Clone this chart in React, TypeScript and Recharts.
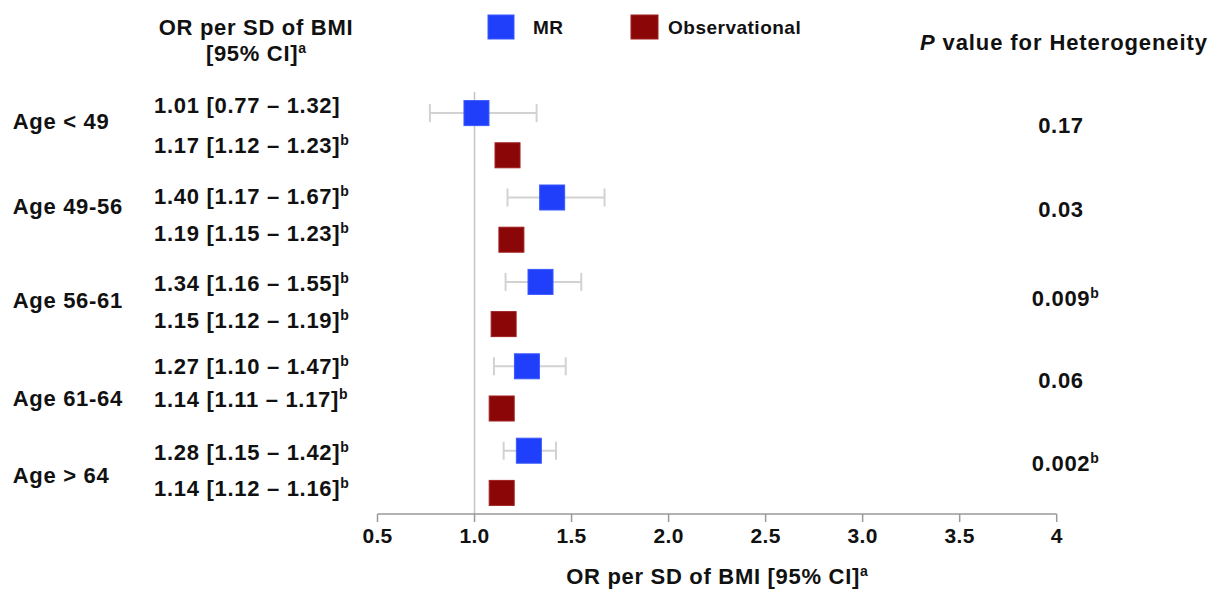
import React from 'react';
import { ComposedChart, Scatter, XAxis, YAxis, ErrorBar, ReferenceLine } from 'recharts';

// Odds ratio per SD of BMI by age group: Mendelian randomisation vs observational
const AGE_GROUPS = ['Age < 49', 'Age 49-56', 'Age 56-61', 'Age 61-64', 'Age > 64'];

const MR_OR = [1.01, 1.4, 1.34, 1.27, 1.28];
const MR_LO = [0.77, 1.17, 1.16, 1.1, 1.15];
const MR_HI = [1.32, 1.67, 1.55, 1.47, 1.42];
const MR_SIG = [false, true, true, true, true];

const OBS_OR = [1.17, 1.19, 1.15, 1.14, 1.14];
const OBS_LO = [1.12, 1.15, 1.12, 1.11, 1.12];
const OBS_HI = [1.23, 1.23, 1.19, 1.17, 1.16];
const OBS_SIG = [true, true, true, true, true];

const P_HET = ['0.17', '0.03', '0.009', '0.06', '0.002'];
const P_SIG = [false, false, true, false, true];

const X_TICKS = [0.5, 1, 1.5, 2, 2.5, 3, 3.5, 4];
const X_TICK_LABELS = ['0.5', '1.0', '1.5', '2.0', '2.5', '3.0', '3.5', '4'];

// Small vertical nudges (px) for the text columns
const MR_TEXT_NUDGE = [-7.6, -1, 0.7, 0, 1.7];
const OBS_TEXT_NUDGE = [-9.8, -7, -3.6, -9, -5.3];
const AGE_NUDGE = [-12.7, -12.2, -3.3, 10.2, 2.8];
const P_NUDGE = [-9.4, -9.9, -5.3, -7.1, -9.2];

const FONT = '"Liberation Sans", Arial, Helvetica, sans-serif';
const TXT = '#111';
const MR_BLUE = '#1f3ffb';
const OBS_RED = '#8b0606';
const BASE = 7.9; // cap-centre to baseline for 22px text

const fmt = (or: number, lo: number, hi: number) =>
  `${or.toFixed(2)} [${lo.toFixed(2)} \u2013 ${hi.toFixed(2)}]`;

const mrData = AGE_GROUPS.map((g, i) => ({
  idx: i,
  row: 2 * i,
  or: MR_OR[i],
  err: [MR_OR[i] - MR_LO[i], MR_HI[i] - MR_OR[i]],
  label: fmt(MR_OR[i], MR_LO[i], MR_HI[i]),
  sig: MR_SIG[i],
}));

const obsData = AGE_GROUPS.map((g, i) => ({
  idx: i,
  row: 2 * i + 1,
  or: OBS_OR[i],
  err: [OBS_OR[i] - OBS_LO[i], OBS_HI[i] - OBS_OR[i]],
  label: fmt(OBS_OR[i], OBS_LO[i], OBS_HI[i]),
  sig: OBS_SIG[i],
}));

const groupData = AGE_GROUPS.map((g, i) => ({
  idx: i,
  row: 2 * i + 0.5,
  or: 1,
  name: g,
  p: P_HET[i],
  sig: P_SIG[i],
}));

const textStyle = { fontFamily: FONT, fontWeight: 700, fontSize: 22, letterSpacing: 0.7 };

const makeShape = (fill: string, stroke: string, nudges: number[]) => (props: any) => {
  const { cx, cy, payload } = props;
  if (cx == null || cy == null) return <g />;
  return (
    <g>
      <rect x={cx - 12.5} y={cy - 12.5} width={25} height={25} fill={fill} stroke={stroke} strokeWidth={1} />
      <text x={154} y={cy + nudges[payload.idx] + BASE} fill={TXT} style={textStyle}>
        {payload.label}
        {payload.sig && (
          <tspan dy={-8} fontSize={14} letterSpacing={0}>
            b
          </tspan>
        )}
      </text>
    </g>
  );
};

const GroupShape = (props: any) => {
  const { cy, payload } = props;
  if (cy == null) return <g />;
  const i = payload.idx;
  return (
    <g>
      <text x={12.7} y={cy + AGE_NUDGE[i] + BASE} fill={TXT} style={textStyle}>
        {payload.name}
      </text>
      <text
        x={1061 + (payload.sig ? 4.3 : 0)}
        y={cy + P_NUDGE[i] + BASE}
        fill={TXT}
        textAnchor="middle"
        style={textStyle}
      >
        {payload.p}
        {payload.sig && (
          <tspan dy={-8} fontSize={14} letterSpacing={0}>
            b
          </tspan>
        )}
      </text>
    </g>
  );
};

const XTick = (props: any) => {
  const { x, y, payload } = props;
  const k = X_TICKS.indexOf(payload.value);
  return (
    <text x={x} y={y} dy="0.71em" textAnchor="middle" fill={TXT} style={{ ...textStyle, fontSize: 21, letterSpacing: 0.3 }}>
      {k >= 0 ? X_TICK_LABELS[k] : payload.value}
    </text>
  );
};

export default function App() {
  return (
    <div style={{ position: 'absolute', left: 0, top: 0, width: 1220, height: 590, background: '#fff' }}>
      <ComposedChart
        width={1220}
        height={590}
        margin={{ top: 92, right: 163.3, bottom: 6, left: 377.5 }}
      >
        <XAxis
          type="number"
          dataKey="or"
          domain={[0.5, 4]}
          ticks={X_TICKS}
          interval={0}
          height={70}
          tickSize={8}
          tickMargin={6}
          axisLine={{ stroke: '#9a9a9a', strokeWidth: 1.5 }}
          tickLine={{ stroke: '#9a9a9a', strokeWidth: 1.5 }}
          tick={<XTick />}
        />
        <YAxis type="number" dataKey="row" domain={[-0.5, 9.5]} reversed hide />
        <ReferenceLine x={1} stroke="#c4c4c4" strokeWidth={1.5} />
        <Scatter data={groupData} shape={GroupShape} isAnimationActive={false} />
        <Scatter data={obsData} shape={makeShape(OBS_RED, '#a02020', OBS_TEXT_NUDGE)} isAnimationActive={false}>
          <ErrorBar dataKey="err" direction="x" width={9} stroke="#d2d2d2" strokeWidth={2} isAnimationActive={false} />
        </Scatter>
        <Scatter data={mrData} shape={makeShape(MR_BLUE, '#3a58ff', MR_TEXT_NUDGE)} isAnimationActive={false}>
          <ErrorBar dataKey="err" direction="x" width={9} stroke="#d2d2d2" strokeWidth={2} isAnimationActive={false} />
        </Scatter>
      </ComposedChart>

      <svg
        width={1220}
        height={590}
        style={{ position: 'absolute', left: 0, top: 0, pointerEvents: 'none' }}
      >
        <text x={256} y={34.6} textAnchor="middle" fill={TXT} style={textStyle}>
          OR per SD of BMI
        </text>
        <text x={256} y={61} textAnchor="middle" fill={TXT} style={textStyle}>
          [95% CI]
          <tspan dy={-8} fontSize={14} letterSpacing={0}>a</tspan>
        </text>

        <rect x={488} y={15} width={26} height={24} fill={MR_BLUE} stroke="#3a58ff" />
        <text x={533} y={33.8} fill={TXT} style={{ ...textStyle, fontSize: 19, letterSpacing: 0.5 }}>
          MR
        </text>
        <rect x={631} y={15} width={27} height={24} fill={OBS_RED} stroke="#a02020" />
        <text x={668} y={33.8} fill={TXT} style={{ ...textStyle, fontSize: 19, letterSpacing: 0.5 }}>
          Observational
        </text>

        <text x={920} y={49.6} fill={TXT} style={{ ...textStyle, letterSpacing: 0.9 }}>
          <tspan fontStyle="italic">P</tspan> value for Heterogeneity
        </text>

        <text x={717} y={584.4} textAnchor="middle" fill={TXT} style={textStyle}>
          OR per SD of BMI [95% CI]
          <tspan dy={-8} fontSize={14} letterSpacing={0}>a</tspan>
        </text>
      </svg>
    </div>
  );
}
